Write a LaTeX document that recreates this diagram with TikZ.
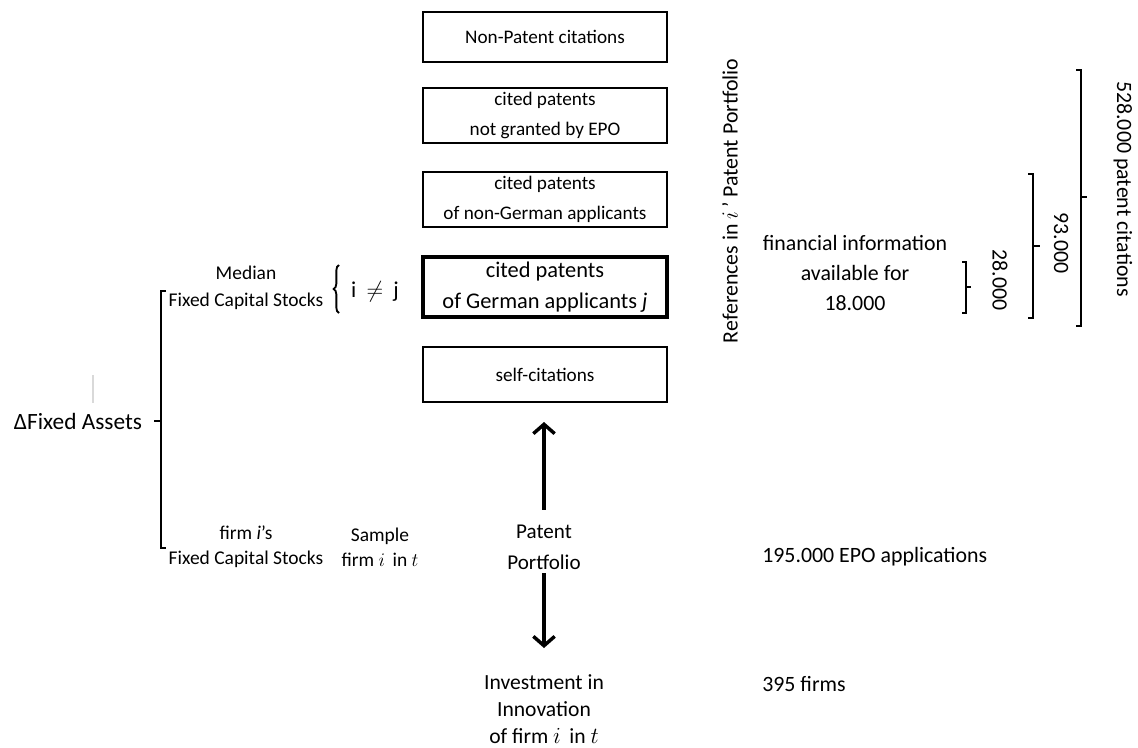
\documentclass[tikz,border=0pt]{standalone}
\usepackage{fontspec}
\setmainfont{Carlito}
\usetikzlibrary{arrows.meta,decorations.pathreplacing}

\begin{document}
\begin{tikzpicture}[x=0.75pt,y=-0.75pt,
  citebox/.style={draw,line width=1.5pt,minimum width=183pt,minimum height=41pt,inner sep=1pt,align=center,font=\fontsize{14.4}{22.5}\selectfont},
  lbl/.style={align=center,inner sep=0pt,font=\fontsize{14.6}{20}\selectfont},
  rlbl/.style={align=center,inner sep=0pt,font=\fontsize{16.4}{22}\selectfont},
  bigarrow/.style={line width=2.6pt,-{Straight Barb[length=7pt,width=16pt,line width=2.6pt]}},
  thinbracket/.style={line width=0.8pt}]
\useasboundingbox (0,0) rectangle (1138,747);

% citation boxes
\foreach \y/\name/\txt in {115.5/granted/cited patents\\not granted by EPO,
                           199.5/foreign/cited patents\\of non-German applicants,
                           374.5/self/self-citations}
  \node[citebox] (\name) at (545,\y) {\txt};
\node[citebox,minimum height=37.5pt] (nonpat) at (545,37) {Non-Patent citations};
\node[citebox,line width=2.4pt,minimum height=45pt,font=\fontsize{16.8}{23}\selectfont] (german) at (545,287) {cited patents\\of German applicants \textit{j}};

% centre column
\node[rlbl,font=\fontsize{15.8}{23}\selectfont] (portfolio) at (544,547) {Patent\\Portfolio};
\node[rlbl,font=\fontsize{16.2}{20}\selectfont] (invest) at (544,709) {Investment in\\Innovation\\of firm $i$\, in $t$};
\coordinate (uptip) at (544,422);
\coordinate (downtip) at (544,648);
\draw[bigarrow] (portfolio.north) ++(0,-15) -- (uptip);
\draw[bigarrow] (portfolio.south) ++(0,4) -- (downtip);

% left side
\node[rlbl,font=\fontsize{17.5}{22}\selectfont] (assets) at (78,421) {ΔFixed Assets};
\draw[gray!30,line width=1.5pt] (93,375) -- (93,403);
\node[lbl] (median) at (246,288) {Median\\Fixed Capital Stocks};
\node[lbl,font=\fontsize{14.6}{19}\selectfont] (own) at (246,547) {firm \textit{i}'s\\Fixed Capital Stocks};
\node[lbl,font=\fontsize{14.6}{19}\selectfont] (sample) at (380,547) {Sample\\firm $i$\, in $t$};
\node[lbl,font=\fontsize{17}{19}\selectfont] (ineqj) at (375,292) {$\mathrm{i}\,\neq\,\mathrm{j}$};
\draw[line width=2.2pt] (166,291) -- (161,291) -- (161,548) -- (166,548);
\draw[line width=2.2pt] (161,421) -- (154,421);
\draw[line width=1.4pt,decorate,decoration={brace,amplitude=4pt}] (339,313) -- (339,265);

% right side
\node[rlbl,rotate=90] (refs) at (730,201) {References in $i$\,' Patent Portfolio};
\node[rlbl,font=\fontsize{16.4}{22.3}\selectfont] (fininfo) at (855,273) {financial information\\available for\\18.000};
\draw[thinbracket] (962,262) -- (966,262) -- (966,313) -- (962,313);
\draw[thinbracket] (966,287) -- (971,287);
\node[rlbl,rotate=-90] (c28) at (1000,280) {28.000};
\draw[thinbracket] (1028,174) -- (1033,174) -- (1033,318) -- (1028,318);
\draw[thinbracket] (1033,246) -- (1040,246);
\node[rlbl,rotate=-90] (c93) at (1061,243) {93.000};
\draw[thinbracket] (1076,70) -- (1081,70) -- (1081,326) -- (1076,326);
\draw[thinbracket] (1081,197) -- (1087,197);
\node[rlbl,rotate=-90] (c528) at (1123,189) {528.000 patent citations};
\node[rlbl,anchor=west] (epo) at (762,557) {195.000 EPO applications};
\node[rlbl,anchor=west] (firms) at (762,684) {395 firms};
\end{tikzpicture}
\end{document}
